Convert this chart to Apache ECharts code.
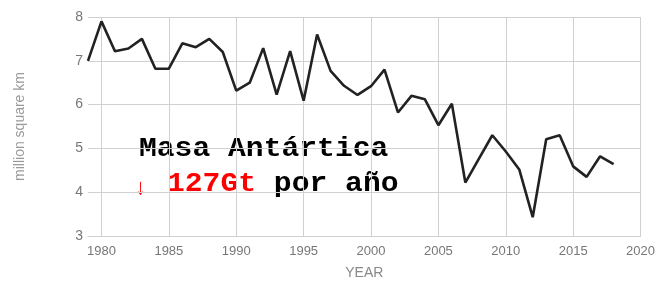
<!DOCTYPE html>
<html>
<head>
<meta charset="utf-8">
<script src="https://cdn.jsdelivr.net/npm/echarts@6/dist/echarts.min.js"></script>
<style>
  html, body { margin: 0; padding: 0; background: #fff; }
  #chart { width: 658px; height: 285px; }
</style>
</head>
<body>
<div id="chart"></div>
<script>
const years = [1979, 1980, 1981, 1982, 1983, 1984, 1985, 1986, 1987, 1988, 1989,
  1990, 1991, 1992, 1993, 1994, 1995, 1996, 1997, 1998, 1999,
  2000, 2001, 2002, 2003, 2004, 2005, 2006, 2007, 2008, 2009,
  2010, 2011, 2012, 2013, 2014, 2015, 2016, 2017, 2018]
const extent = [7.0, 7.9, 7.22, 7.28, 7.5, 6.82, 6.82, 7.4, 7.31, 7.5, 7.2,
  6.32, 6.5, 7.29, 6.23, 7.22, 6.09, 7.6, 6.77, 6.43, 6.22,
  6.42, 6.8, 5.82, 6.2, 6.12, 5.53, 6.02, 4.22, 4.76, 5.3,
  4.93, 4.52, 3.43, 5.21, 5.3, 4.59, 4.35, 4.82, 4.64]
const xTicks = [1980, 1985, 1990, 1995, 2000, 2005, 2010, 2015, 2020]

const chart = echarts.init(document.getElementById('chart'))

const mono = { fontFamily: 'Liberation Mono', fontWeight: 'bold', fontSize: 28 }

const option = {
  backgroundColor: '#fff',
  animation: false,
  graphic: [
    {
      type: 'text',
      left: 139,
      top: 135,
      scaleX: 1.06,
      style: { text: 'Masa Antártica', fill: '#000', font: 'bold 28px "Liberation Mono"' },
    },
    {
      type: 'text',
      left: 135,
      top: 177,
      style: { text: '↓', fill: '#ff0000', font: '22px "Liberation Sans"' },
    },
    {
      type: 'text',
      left: 167,
      top: 170,
      scaleX: 1.06,
      style: {
        text: '{r|127Gt}{b| por año}',
        rich: {
          r: Object.assign({ fill: '#ff0000' }, mono),
          b: Object.assign({ fill: '#000' }, mono),
        },
      },
    },
  ],
  grid: {
    left: 88,
    right: 16,
    top: 17,
    bottom: 46,
  },
  xAxis: {
    type: 'value',
    min: 1979,
    max: 2020,
    name: 'YEAR',
    nameLocation: 'middle',
    nameGap: 30,
    nameTextStyle: { color: '#888', fontSize: 14, fontFamily: 'Liberation Sans' },
    axisLine: { show: true, lineStyle: { color: '#d0d0d0' } },
    axisTick: { show: false, customValues: xTicks },
    axisLabel: {
      customValues: xTicks,
      formatter: v => String(v),
      color: '#777',
      fontSize: 13,
      fontFamily: 'Liberation Sans',
      margin: 9,
    },
    splitLine: { show: true, lineStyle: { color: '#d0d0d0' } },
  },
  yAxis: {
    type: 'value',
    min: 3,
    max: 8,
    interval: 1,
    name: 'million square km',
    nameLocation: 'middle',
    nameGap: 61,
    nameTextStyle: { color: '#999', fontSize: 14, fontFamily: 'Liberation Sans' },
    axisLine: { show: false },
    axisTick: { show: false },
    axisLabel: {
      color: '#777',
      fontSize: 14,
      fontFamily: 'Liberation Sans',
      margin: 5,
    },
    splitLine: { lineStyle: { color: '#d0d0d0' } },
  },
  series: [
    {
      type: 'line',
      data: years.map((y, i) => [y, extent[i]]),
      symbol: 'none',
      lineStyle: { color: '#222', width: 2.6 },
    },
  ],
}

chart.setOption(option)
</script>
</body>
</html>
